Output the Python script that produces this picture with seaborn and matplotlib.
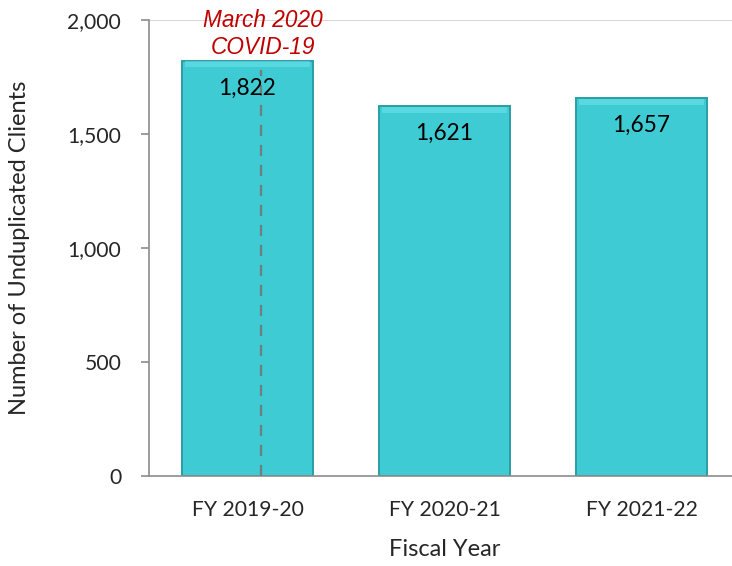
import matplotlib
matplotlib.use("Agg")
import matplotlib.pyplot as plt
import seaborn as sns
import pandas as pd
from matplotlib.ticker import FuncFormatter

years = ["FY 2019-20", "FY 2020-21", "FY 2021-22"]
clients = [1822, 1621, 1657]
y_ticks = [0, 500, 1000, 1500, 2000]

sns.set_style("white")
plt.rcParams["font.family"] = ["Lato", "DejaVu Sans"]

df = pd.DataFrame({"year": years, "clients": clients})

fig = plt.figure(figsize=(7.32, 5.66), dpi=100)
ax = fig.add_axes([149 / 732, 1 - 476 / 566, (740 - 149) / 732, (476 - 20) / 566])

sns.barplot(data=df, x="year", y="clients", color="#3ECBD3", width=0.67,
            edgecolor="#2A9EA5", linewidth=1.4, saturation=1, ax=ax, zorder=2)

# light bevel on the top of each bar
for p in ax.patches:
    x0, w, h = p.get_x(), p.get_width(), p.get_height()
    ax.fill_between([x0 + 0.02, x0 + w - 0.02], h - 28, h - 3, color="#6FE3EA", alpha=0.55,
                    linewidth=0, zorder=2.5)

# value labels inside top of bars
for i, v in enumerate(clients):
    ax.text(i, v - 120, f"{v:,}", ha="center", va="center", fontsize=16.3, color="black", zorder=4)

# COVID marker
ax.plot([0.07, 0.07], [0, 1780], color="#6E7F80", linestyle=(0, (5, 4)), linewidth=1.6, zorder=3)
ax.text(0.08, 1938, "March 2020\nCOVID-19", ha="center", va="center", color="#C00000",
        fontsize=16.3, style="italic", linespacing=1.2, zorder=4,
        family=["Liberation Sans", "DejaVu Sans"])

ax.axhline(2000, color="#D0D0D0", linewidth=1.2, zorder=1)

ax.set_xlim(-0.5, 2.5)
ax.set_ylim(0, 2000)
ax.set_yticks(y_ticks)
ax.yaxis.set_major_formatter(FuncFormatter(lambda v, p: f"{int(v):,}"))

for s in ["top", "right"]:
    ax.spines[s].set_visible(False)
for s in ["left", "bottom"]:
    ax.spines[s].set_color("#8C8C8C")
    ax.spines[s].set_linewidth(1.2)

ax.tick_params(axis="y", direction="out", length=6, width=1.2, color="#8C8C8C", labelsize=15.2, pad=14, left=True)
ax.tick_params(axis="x", length=0, labelsize=15.2, pad=17)

ax.set_xlabel("Fiscal Year", fontsize=17, labelpad=14)
ax.set_ylabel("Number of Unduplicated Clients", fontsize=17, labelpad=27)

fig.savefig("out.png", dpi=100)
